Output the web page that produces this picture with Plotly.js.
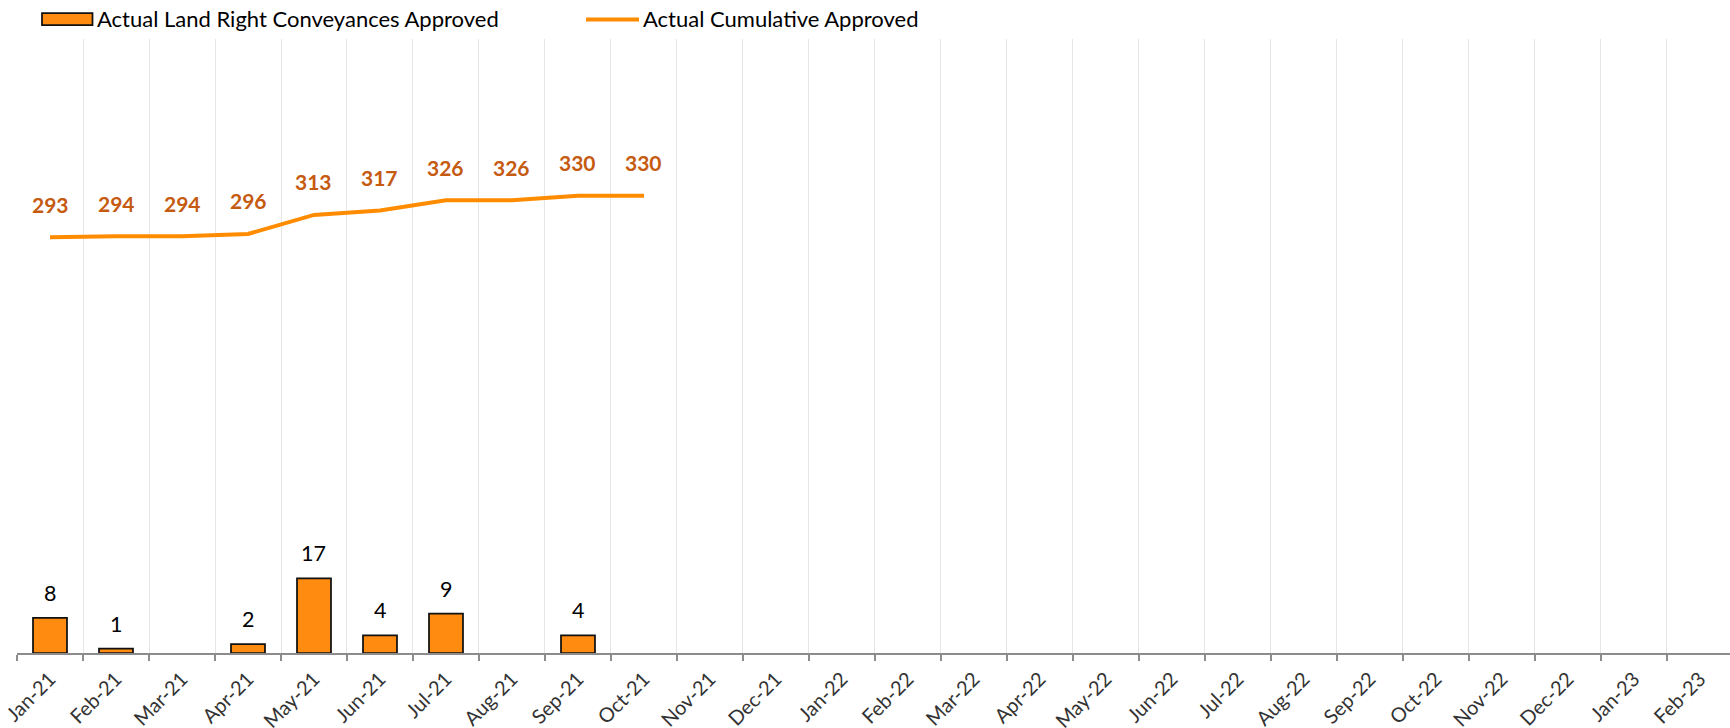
<!DOCTYPE html>
<html>
<head>
<meta charset="utf-8">
<script src="https://cdn.plot.ly/plotly-3.0.1.min.js"></script>
<style>
html,body{margin:0;padding:0;background:#fff;}
#chart{width:1730px;height:728px;}
</style>
</head>
<body>
<div id="chart"></div>
<script>
const categories = ["Jan-21","Feb-21","Mar-21","Apr-21","May-21","Jun-21","Jul-21","Aug-21","Sep-21","Oct-21","Nov-21","Dec-21","Jan-22","Feb-22","Mar-22","Apr-22","May-22","Jun-22","Jul-22","Aug-22","Sep-22","Oct-22","Nov-22","Dec-22","Jan-23","Feb-23"];
const approved = [8,1,null,2,17,4,9,null,4,null,null,null,null,null,null,null,null,null,null,null,null,null,null,null,null,null];
const cumulative = [293,294,294,296,313,317,326,326,330,330,null,null,null,null,null,null,null,null,null,null,null,null,null,null,null,null];
const barName = "Actual Land Right Conveyances Approved";
const lineName = "Actual Cumulative Approved";

const W = 1730, H = 728;
const M = {l:17, r:0, t:39, b:75};
const plotW = W - M.l - M.r, plotH = H - M.t - M.b;
const px2x = px => (px - M.l) / plotW;
const px2y = py => (H - M.b - py) / plotH;

const FONT = "Lato, 'Open Sans', sans-serif";
const ORANGE_BAR = "#FF8C10";
const ORANGE_LINE = "#FF8C00";
const LABEL_ORANGE = "#C55A11";

const barTrace = {
  type: "bar", x: categories, y: approved, name: barName,
  width: 0.515,
  marker: {color: ORANGE_BAR, line: {color: "#111", width: 1.75}},
  hoverinfo: "x+y", showlegend: false
};
const lineTrace = {
  type: "scatter", mode: "lines", x: categories, y: cumulative, name: lineName,
  yaxis: "y2", line: {color: ORANGE_LINE, width: 4}, connectgaps: false,
  hoverinfo: "x+y", showlegend: false
};

const annotations = [];
approved.forEach((v,i) => {
  if (v === null) return;
  annotations.push({x: categories[i], y: v, xref: "x", yref: "y", text: String(v),
    showarrow: false, yanchor: "middle", yshift: 25,
    font: {family: FONT, size: 21.5, color: "#000"}});
});
cumulative.forEach((v,i) => {
  if (v === null) return;
  annotations.push({x: categories[i], y: v, xref: "x", yref: "y2", text: "<b>" + v + "</b>",
    showarrow: false, yanchor: "middle", yshift: 33,
    font: {family: FONT, size: 21, color: LABEL_ORANGE}});
});
// custom legend text
annotations.push({xref: "paper", yref: "paper", x: px2x(95), y: px2y(19), xanchor: "left", yanchor: "middle",
  text: barName, showarrow: false, font: {family: FONT, size: 22, color: "#000"}});
annotations.push({xref: "paper", yref: "paper", x: px2x(641), y: px2y(19), xanchor: "left", yanchor: "middle",
  text: lineName, showarrow: false, font: {family: FONT, size: 22, color: "#000"}});

const shapes = [
  {type: "rect", xref: "paper", yref: "paper", x0: px2x(42), x1: px2x(92.5), y0: px2y(25), y1: px2y(13),
   fillcolor: ORANGE_BAR, line: {color: "#111", width: 1.75}},
  {type: "line", xref: "paper", yref: "paper", x0: px2x(586), x1: px2x(639), y0: px2y(19.5), y1: px2y(19.5),
   line: {color: ORANGE_LINE, width: 4}}
];

const layout = {
  width: W, height: H,
  margin: M,
  paper_bgcolor: "#fff", plot_bgcolor: "#fff",
  showlegend: false,
  xaxis: {
    type: "category", range: [-0.5, 25.455],
    tickson: "boundaries", ticks: "outside", ticklen: 6, tickwidth: 1.5, tickcolor: "#8c8c8c",
    showline: true, linecolor: "#8c8c8c", linewidth: 1.5,
    showgrid: true, gridcolor: "#e6e6e6", gridwidth: 1,
    tickangle: -45, tickfont: {family: FONT, size: 20, color: "#333"},
    ticklabelstandoff: 5,
    automargin: false,
    fixedrange: true
  },
  yaxis: {range: [0, 140], visible: false, fixedrange: true},
  yaxis2: {range: [-78, 470], overlaying: "y", side: "right", visible: false, fixedrange: true},
  annotations: annotations,
  shapes: shapes
};

Plotly.newPlot("chart", [barTrace, lineTrace], layout, {displayModeBar: false, staticPlot: true});
</script>
</body>
</html>
